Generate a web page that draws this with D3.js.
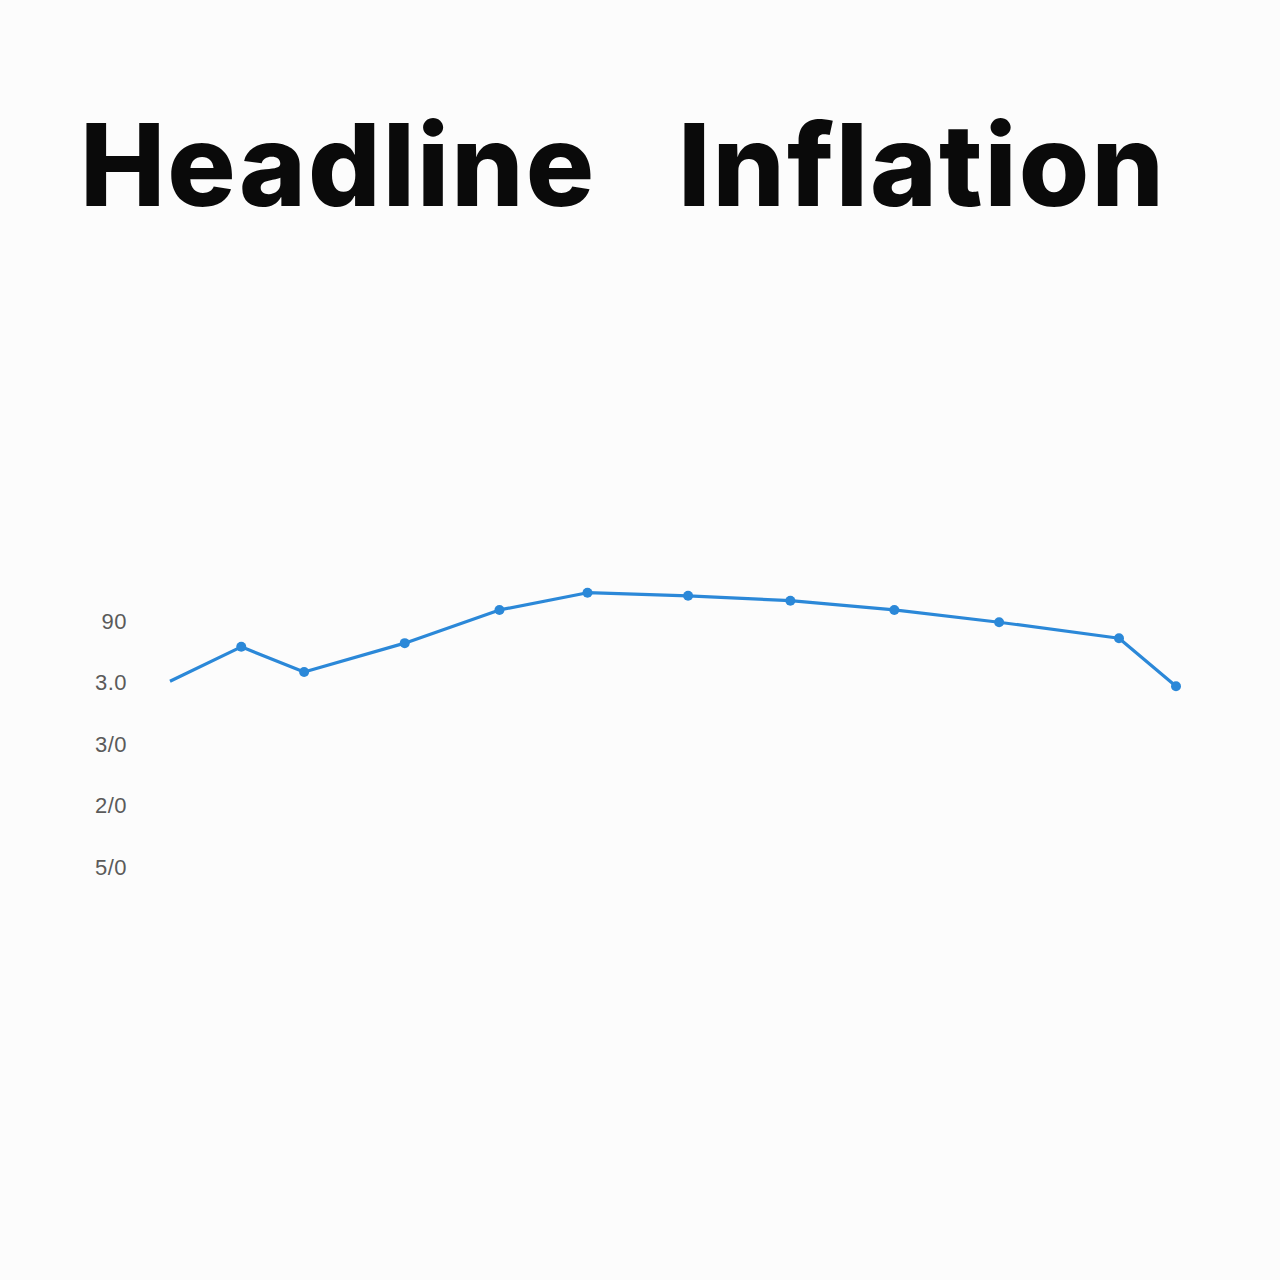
<!DOCTYPE html>
<html>
<head>
<meta charset="utf-8">
<script src="https://cdn.jsdelivr.net/npm/d3@7"></script>
<style>
  body { margin: 0; background: #fcfcfc; }
  svg { display: block; }
</style>
</head>
<body>
<div id="chart"></div>
<script>
// values (y in tick units: 0 = bottom label, 4 = top label)
const months = [0, 0.85, 1.6, 2.8, 3.93, 4.98, 6.18, 7.4, 8.64, 9.89, 11.32, 12];
const inflation = [3.02, 3.58, 3.17, 3.64, 4.18, 4.46, 4.41, 4.33, 4.18, 3.98, 3.72, 2.94];
const hasMarker = [false, true, true, true, true, true, true, true, true, true, true, true];
const tickPositions = [0, 1, 2, 3, 4];
const tickLabels = ["5/0", "2/0", "3/0", "3.0", "90"];
const titleWords = ["Headline", "Inflation"];

const width = 1280, height = 1280;

const svg = d3.select("#chart").append("svg")
    .attr("width", width)
    .attr("height", height);

svg.append("rect").attr("width", width).attr("height", height).attr("fill", "#fcfcfc");

// title, two words with a wide gap
const titleX = [80, 678];
svg.selectAll("text.title")
    .data(titleWords)
    .join("text")
    .attr("class", "title")
    .attr("x", (d, i) => titleX[i])
    .attr("y", 206)
    .attr("font-family", "Inter, 'Liberation Sans', sans-serif")
    .attr("font-weight", 800)
    .attr("font-size", 114)
    .attr("letter-spacing", 2)
    .attr("fill", "#0a0a0a")
    .text(d => d);

const x = d3.scaleLinear().domain([0, 12]).range([170, 1176]);
const y = d3.scaleLinear().domain([0, 4]).range([867, 621]);

const yAxis = svg.append("g")
    .attr("transform", "translate(127,0)")
    .call(d3.axisLeft(y).tickValues(tickPositions).tickSize(0).tickPadding(0)
        .tickFormat((d, i) => tickLabels[i]));
yAxis.select(".domain").remove();
yAxis.selectAll("text")
    .attr("font-family", "'Liberation Sans', Arial, sans-serif")
    .attr("font-size", 22)
    .attr("letter-spacing", 0.5)
    .attr("fill", "#5a5a5a");

const line = d3.line().x((d, i) => x(months[i])).y(d => y(d));

svg.append("path")
    .datum(inflation)
    .attr("d", line)
    .attr("fill", "none")
    .attr("stroke", "#2b88d8")
    .attr("stroke-width", 3.2)
    .attr("stroke-linejoin", "round");

svg.selectAll("circle.pt")
    .data(inflation.map((v, i) => ({ v, i })).filter(d => hasMarker[d.i]))
    .join("circle")
    .attr("class", "pt")
    .attr("cx", d => x(months[d.i]))
    .attr("cy", d => y(d.v))
    .attr("r", 5)
    .attr("fill", "#2b88d8");
</script>
</body>
</html>
